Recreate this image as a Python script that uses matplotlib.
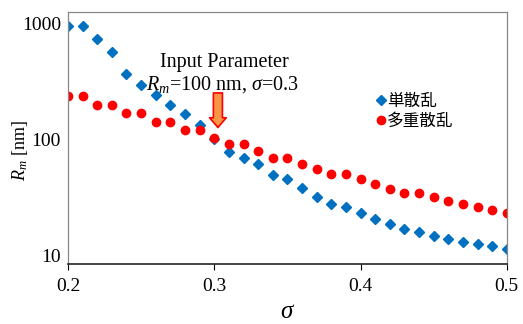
import matplotlib
matplotlib.use("Agg")
import matplotlib.pyplot as plt

# sigma values (0.20 .. 0.50)
sigma = [0.20, 0.21, 0.22, 0.23, 0.24, 0.25, 0.26, 0.27, 0.28, 0.29, 0.30,
         0.31, 0.32, 0.33, 0.34, 0.35, 0.36, 0.37, 0.38, 0.39, 0.40,
         0.41, 0.42, 0.43, 0.44, 0.45, 0.46, 0.47, 0.48, 0.49, 0.50]
single = [942, 942, 728, 566, 363, 292, 238, 196, 164, 132, 100,
          77.8, 69.5, 61.7, 49.6, 45.0, 37.6, 31.8, 27.5, 25.8, 22.9,
          20.4, 18.6, 17.0, 15.8, 14.7, 13.8, 13.1, 12.5, 12.0, 11.3]
multiple = [236, 236, 196, 196, 167, 167, 141, 141, 121, 121, 103,
            90, 90, 78.8, 69.5, 69.5, 61.7, 55.1, 49.9, 49.9, 45.0,
            40.9, 37.3, 34.4, 34.4, 31.8, 29.6, 27.5, 25.8, 24.3, 22.9]
labels = ["単散乱", "多重散乱"]

plt.rcParams["font.family"] = ["Liberation Serif", "DejaVu Serif"]
plt.rcParams["mathtext.fontset"] = "custom"
plt.rcParams["mathtext.it"] = "Liberation Serif:italic"
plt.rcParams["mathtext.rm"] = "Liberation Serif"

fig = plt.figure(figsize=(5.23, 3.24), dpi=100)
ax = fig.add_axes([0.130, 0.185, 0.839, 0.778])

ax.plot(sigma, single, linestyle="none", marker="D", markersize=4.6,
        color="#0070C0", label=labels[0])
ax.plot(sigma, multiple, linestyle="none", marker="o", markersize=6.0,
        color="#FF0000", label=labels[1])

ax.set_yscale("log")
ax.set_xlim(0.2, 0.5)
ax.set_ylim(8.4, 1245)
ax.set_xticks([0.2, 0.3, 0.4, 0.5])
ax.set_xticklabels(["0.2", "0.3", "0.4", "0.5"])
ax.set_yticks([10, 100, 1000])
ax.set_yticklabels(["10", "100", "1000"])
ax.minorticks_off()
ax.tick_params(axis="x", direction="out", length=4, labelsize=14, pad=6)
ax.tick_params(axis="y", length=0, labelsize=14, pad=5)

for s in ["left", "top", "right"]:
    ax.spines[s].set_color("#888888")
    ax.spines[s].set_linewidth(0.9)
ax.spines["bottom"].set_color("#222222")
ax.spines["bottom"].set_linewidth(1.2)

ax.set_xlabel(r"$\sigma$", fontsize=18, labelpad=4)
ax.set_ylabel(r"$R_m$ [nm]", fontsize=13)
ax.yaxis.set_label_coords(-0.086, 0.45)

# input parameter annotation
ax.text(0.307, 461, "Input Parameter", ha="center", va="center", fontsize=14.5)
ax.text(0.3056, 298, r"$R_m$=100 nm, $\sigma$=0.3", ha="center", va="center",
        fontsize=14.5)
ax.annotate("", xy=(0.3025, 126), xytext=(0.3025, 250),
            arrowprops=dict(arrowstyle="simple,head_width=1.2,head_length=0.7,tail_width=0.65",
                            facecolor="#F79646", edgecolor="#FF0000", lw=1.2,
                            shrinkA=0, shrinkB=0))

ax.legend(loc="upper left", bbox_to_anchor=(0.688, 0.705), frameon=False,
          handlelength=0.5, handletextpad=0.15, labelspacing=0.15,
          borderaxespad=0, prop={"family": ["Noto Sans CJK JP"], "size": 12})

fig.savefig("out.png", dpi=100)
